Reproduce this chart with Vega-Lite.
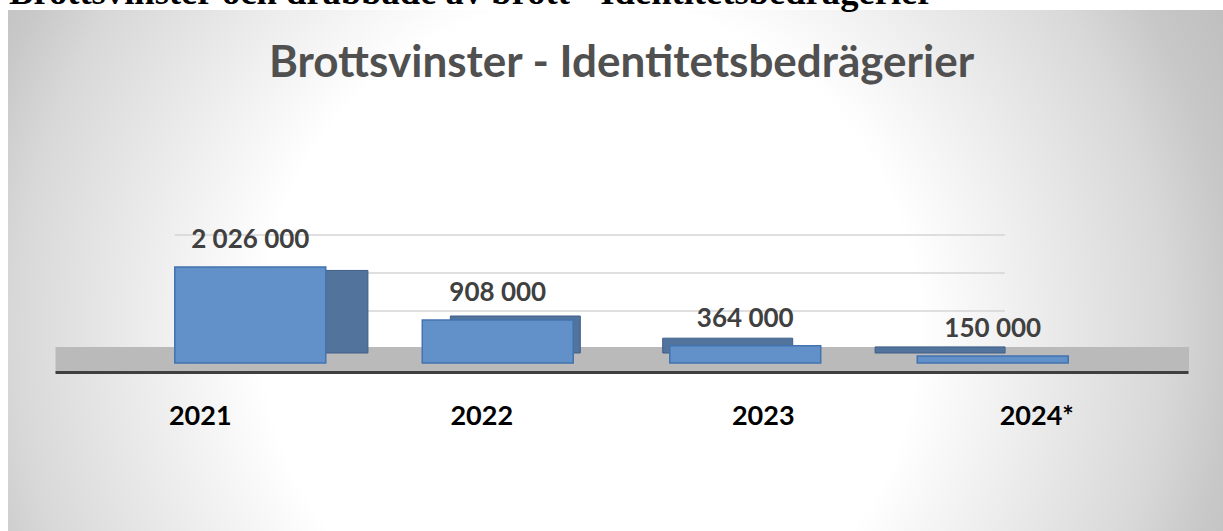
{
  "$schema": "https://vega.github.io/schema/vega-lite/v6.json",
  "autosize": "none",
  "width": 1215,
  "height": 521,
  "padding": {"left": 8, "top": 10, "right": 0, "bottom": 0},
  "background": "#ffffff",
  "config": {
    "view": {"stroke": null},
    "locale": {"number": {"decimal": ",", "thousands": " ", "grouping": [3], "currency": ["", ""]}}
  },
  "title": {
    "text": "Brottsvinster och drabbade av brott - Identitetsbedrägerier",
    "anchor": "start",
    "frame": "group",
    "font": "Liberation Serif",
    "fontSize": 36.6,
    "fontWeight": "bold",
    "color": "#000000",
    "baseline": "alphabetic",
    "offset": -31,
    "dx": 1
  },
  "datasets": {
    "main": [
      {"year": "2021", "value": 2026000},
      {"year": "2022", "value": 908000},
      {"year": "2023", "value": 364000},
      {"year": "2024*", "value": 150000}
    ],
    "grid": [{"g": 1000000}, {"g": 2000000}, {"g": 3000000}]
  },
  "resolve": {
    "scale": {"x": "independent", "y": "independent"},
    "axis": {"x": "independent", "y": "independent"}
  },
  "layer": [
    {
      "data": {"values": [{}]},
      "mark": {
        "type": "rect",
        "clip": true,
        "color": {
          "gradient": "radial",
          "x1": 0.479, "y1": 0.5, "r1": 0,
          "x2": 0.479, "y2": 0.5, "r2": 0.6,
          "stops": [
            {"offset": 0, "color": "#ffffff"},
            {"offset": 0.45, "color": "#ffffff"},
            {"offset": 0.79, "color": "#d8d8d8"},
            {"offset": 0.88, "color": "#c8c8c8"},
            {"offset": 1, "color": "#bcbcbc"}
          ]
        }
      },
      "encoding": {
        "y": {"datum": 13507000, "type": "quantitative", "scale": {"domain": [-3545000, 7448000]}, "axis": null},
        "y2": {"datum": -12114000}
      }
    },
    {
      "data": {"name": "grid"},
      "mark": {"type": "rule", "color": "#d4d4d4", "strokeWidth": 1.5},
      "encoding": {
        "x": {"datum": "2021", "type": "nominal", "bandPosition": 0,
              "scale": {"type": "band", "domain": ["2021", "2022", "2023", "2024*"], "range": [47, 1180], "paddingInner": 0.39, "paddingOuter": 0.484}, "axis": null},
        "x2": {"datum": "2024*", "bandPosition": 0.58},
        "y": {"field": "g", "type": "quantitative", "scale": {"domain": [-4789000, 8921000]}, "axis": null}
      }
    },
    {
      "data": {"values": [{}]},
      "mark": {"type": "rect", "color": "#bababa"},
      "encoding": {
        "x": {"datum": "2021", "type": "nominal", "bandPosition": -0.79,
              "scale": {"type": "band", "domain": ["2021", "2022", "2023", "2024*"], "range": [47, 1180], "paddingInner": 0.39, "paddingOuter": 0.484}, "axis": null},
        "x2": {"datum": "2024*", "bandPosition": 1.8},
        "y": {"datum": 337600, "type": "quantitative", "scale": {"domain": [-3545000, 7448000]}, "axis": null},
        "y2": {"datum": -189900}
      }
    },
    {
      "data": {"name": "main"},
      "mark": {"type": "bar", "color": "#52739b", "stroke": "#3e5f88", "strokeWidth": 1},
      "encoding": {
        "x": {"field": "year", "type": "nominal", "sort": null,
              "scale": {"type": "band", "range": [123.75, 1103.25], "paddingInner": 0.388, "paddingOuter": 0.5}, "axis": null},
        "y": {"field": "value", "type": "quantitative", "scale": {"domain": [-4367000, 8416000]}, "axis": null}
      }
    },
    {
      "data": {"name": "main"},
      "mark": {"type": "bar", "color": "#6290c8", "stroke": "#4373b0", "strokeWidth": 1.5},
      "encoding": {
        "x": {"field": "year", "type": "nominal", "sort": null,
              "scale": {"type": "band", "range": [47, 1180], "paddingInner": 0.39, "paddingOuter": 0.484},
              "axis": {
                "orient": "bottom", "offset": -159, "zindex": 1, "title": null,
                "domainColor": "#3f3f3f", "domainWidth": 3, "ticks": false,
                "labelAngle": 0, "labelFont": "Lato", "labelFontWeight": "bold", "labelFontSize": 27,
                "labelColor": "#000000", "labelPadding": 31,
                "labelOffset": {"condition": [
                  {"test": "datum.value === '2021'", "value": -50},
                  {"test": "datum.value === '2022'", "value": -16},
                  {"test": "datum.value === '2023'", "value": 18}
                ], "value": 44}
              }},
        "y": {"field": "value", "type": "quantitative", "scale": {"domain": [-3545000, 7448000]}, "axis": null}
      }
    },
    {
      "data": {"name": "main"},
      "mark": {"type": "text", "font": "Lato", "fontWeight": "bold", "fontSize": 26, "color": "#404040", "baseline": "alphabetic", "dy": -19},
      "encoding": {
        "x": {"field": "year", "type": "nominal", "sort": null,
              "scale": {"type": "band", "range": [47, 1180], "paddingInner": 0.39, "paddingOuter": 0.484}, "axis": null},
        "y": {"field": "value", "type": "quantitative", "scale": {"domain": [-3545000, 7448000]},
              "axis": {
                "orient": "left", "zindex": 1, "labels": false, "ticks": false, "domain": false, "grid": false,
                "title": "Brottsvinster - Identitetsbedrägerier",
                "titleFont": "Lato", "titleFontWeight": "bold", "titleFontSize": 44, "titleColor": "#505050",
                "titleAngle": 0, "titleX": 613, "titleY": 66, "titleAlign": "center", "titleBaseline": "alphabetic"
              }},
        "text": {"field": "value", "type": "quantitative", "format": ",d"}
      }
    }
  ]
}
